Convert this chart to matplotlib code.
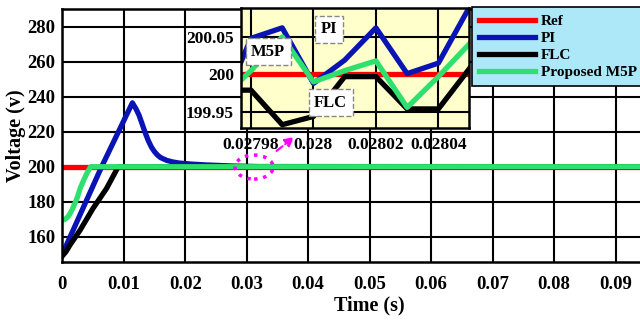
# voltage.py
#   output voltage of the controllers, with a zoom on t = 0.028 s

import matplotlib.pyplot as plt
from matplotlib.patches import Ellipse

plt.rcParams['font.family'] = ['Liberation Serif', 'DejaVu Serif']
plt.rcParams['font.weight'] = 'bold'

# main traces (time in s, voltage in V)
t_ref = [0, 0.1]
v_ref = [200, 200]

t_pi = [0, 0.0064, 0.0114, 0.012, 0.0125, 0.013, 0.0135, 0.014, 0.0145, 0.015, 0.0155,
        0.016, 0.017, 0.018, 0.019, 0.021, 0.0235, 0.0278, 0.032, 0.1]
v_pi = [150, 200, 236.5, 233, 229.3, 224.3, 219.3, 214.8, 211.2, 208.6, 206.6,
        205.2, 203.6, 202.7, 202.1, 201.5, 201.0, 200.4, 200.1, 200]

t_flc = [0, 0.0006, 0.00125, 0.0029, 0.005, 0.0072, 0.0091, 0.1]
v_flc = [149, 151.5, 155.3, 163.8, 176.2, 187.6, 200, 200]

t_m5p = [0, 0.0003, 0.0006, 0.0009, 0.0012, 0.0015, 0.0018, 0.0024, 0.0029, 0.0035, 0.004, 0.0046, 0.1]
v_m5p = [169.5, 169.8, 170.4, 171.4, 172.9, 174.8, 177.1, 182.0, 187.6, 192.5, 196.2, 200, 200]

# zoomed samples around 0.028 s
t_zoom = [0.02797, 0.02798, 0.02799, 0.02800, 0.02801, 0.02802, 0.02803, 0.02804, 0.02805]
z_ref = [200, 200, 200, 200, 200, 200, 200, 200, 200]
z_pi = [199.95, 200.048, 200.062, 199.988, 200.019, 200.062, 200.001, 200.015, 200.09]
z_flc = [199.979, 199.979, 199.933, 199.944, 199.997, 199.997, 199.954, 199.954, 200.008]
z_m5p = [199.965, 200.005, 200.05, 199.990, 200.005, 200.018, 199.956, 199.997, 200.041]

x_ticks = [0, 0.01, 0.02, 0.03, 0.04, 0.05, 0.06, 0.07, 0.08, 0.09]
x_tick_labels = ['0', '0.01', '0.02', '0.03', '0.04', '0.05', '0.06', '0.07', '0.08', '0.09']
y_ticks = [160, 180, 200, 220, 240, 260, 280]
zx_ticks = [0.02798, 0.02800, 0.02802, 0.02804]
zx_tick_labels = ['0.02798', '0.028', '0.02802', '0.02804']
zy_ticks = [199.95, 200, 200.05]
zy_tick_labels = ['199.95', '200', '200.05']

RED = '#FF0000'
BLUE = '#0A14B4'
BLACK = '#000000'
GREEN = '#2EE06E'
LW = 3.8


def style(ax, fs):
    ax.grid(True, color='black', linewidth=1.5)
    ax.set_axisbelow(True)
    ax.tick_params(length=0, labelsize=fs)
    for s in ax.spines.values():
        s.set_linewidth(1.8)
        s.set_color('black')
    for lab in ax.get_xticklabels() + ax.get_yticklabels():
        lab.set_fontweight('bold')


fig = plt.figure(figsize=(6.4, 3.23), dpi=100)

# main axes, right side runs off the picture
ax = fig.add_axes([62.3 / 640, 1 - 262.3 / 323, (677 - 62.3) / 640, (262.3 - 9) / 323])
l_ref, = ax.plot(t_ref, v_ref, color=RED, lw=LW, label='Ref')
l_pi, = ax.plot(t_pi, v_pi, color=BLUE, lw=LW, label='PI')
l_flc, = ax.plot(t_flc, v_flc, color=BLACK, lw=LW, label='FLC')
l_m5p, = ax.plot(t_m5p, v_m5p, color=GREEN, lw=LW, label='Proposed M5P')
ax.set_xlim(0, 0.1)
ax.set_ylim(145.4, 290.1)
ax.set_xticks(x_ticks)
ax.set_xticklabels(x_tick_labels)
ax.set_yticks(y_ticks)
style(ax, 13.5)
ax.tick_params(axis='x', pad=10)
ax.tick_params(axis='y', pad=5)
ax.set_xlabel('Time (s)', fontsize=14.5, fontweight='bold', labelpad=2)
ax.set_ylabel('Voltage (v)', fontsize=14.5, fontweight='bold', labelpad=1)

# zoom marker and arrow
ax.add_patch(Ellipse((0.0312, 199.8), 0.0062, 13.7, fill=False, edgecolor='#FF00FF',
                     linestyle=':', linewidth=2.5, zorder=5))
ax.annotate('', xy=(0.0381, 218), xytext=(0.0345, 208),
            arrowprops=dict(arrowstyle='-|>', color='#FF00FF', lw=1.5,
                            linestyle='--', mutation_scale=14))

# inset
axz = fig.add_axes([241 / 640, 1 - 127.7 / 323, (469.3 - 241) / 640, (127.7 - 8.3) / 323])
axz.set_facecolor('#FFFFCC')
axz.plot(t_zoom, z_ref, color=RED, lw=LW)
axz.plot(t_zoom, z_pi, color=BLUE, lw=LW)
axz.plot(t_zoom, z_flc, color=BLACK, lw=LW)
axz.plot(t_zoom, z_m5p, color=GREEN, lw=LW)
axz.set_xlim(0.0279768, 0.0280499)
axz.set_ylim(199.929, 200.088)
axz.set_xticks(zx_ticks)
axz.set_xticklabels(zx_tick_labels)
axz.set_yticks(zy_ticks)
axz.set_yticklabels(zy_tick_labels)
style(axz, 12.5)
axz.tick_params(axis='x', pad=7)
axz.tick_params(axis='y', pad=5)

box = dict(facecolor='white', edgecolor='#888888', linestyle='--', linewidth=1, pad=4)
axz.text(0.028005, 200.06, 'PI', fontsize=12, fontweight='bold', ha='center', va='center', bbox=box)
axz.text(0.0279855, 200.03, 'M5P', fontsize=12, fontweight='bold', ha='center', va='center', bbox=box)
axz.text(0.0280055, 199.962, 'FLC', fontsize=12, fontweight='bold', ha='center', va='center', bbox=box)

# legend
leg = fig.legend(handles=[l_ref, l_pi, l_flc, l_m5p], loc='upper left',
                 bbox_to_anchor=(472 / 640, 1 - 7.3 / 323), fontsize=11,
                 frameon=True, fancybox=False, handlelength=3.7, labelspacing=0.22,
                 borderpad=0.45, handletextpad=0.35, borderaxespad=0)
leg.get_frame().set_facecolor('#ADE8F8')
leg.get_frame().set_edgecolor('black')
leg.get_frame().set_alpha(1)
leg.get_frame().set_linewidth(1.2)
for txt in leg.get_texts():
    txt.set_fontweight('bold')

fig.savefig('out.png', dpi=100)
